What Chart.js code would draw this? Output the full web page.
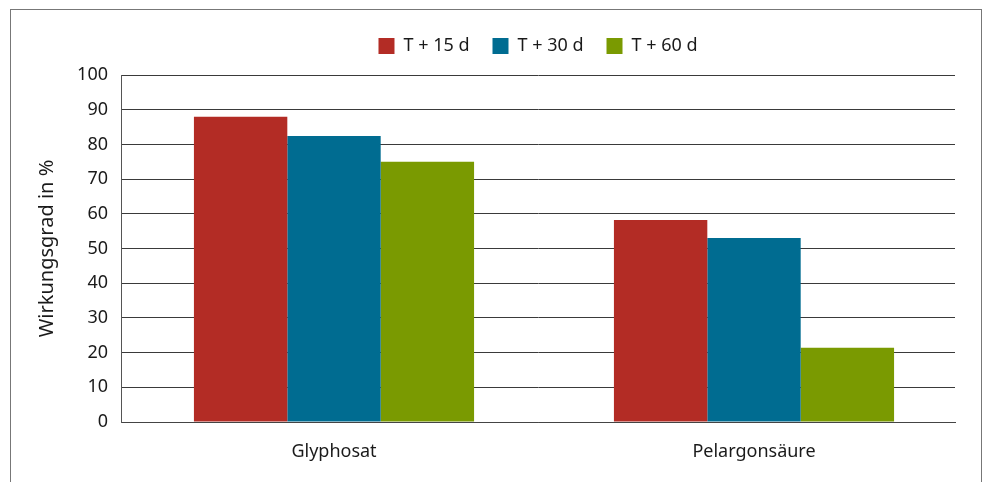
<!DOCTYPE html>
<html>
<head>
<meta charset="utf-8">
<script src="https://cdn.jsdelivr.net/npm/chart.js@4"></script>
<style>
  html, body { margin: 0; padding: 0; background: #fff; }
  #wrap { position: relative; width: 985px; height: 482px; overflow: hidden; }
  #frame { position: absolute; left: 10px; top: 9px; width: 970px; height: 500px;
           border-top: 1px solid #777; border-left: 1px solid #777; border-right: 1px solid #777; }
  canvas { position: absolute; left: 0; top: 0; }
</style>
</head>
<body>
<div id="wrap">
  <div id="frame"></div>
  <canvas id="c" width="985" height="482"></canvas>
</div>
<script>
const categories = ["Glyphosat", "Pelargonsäure"];
const seriesLabels = ["T + 15 d", "T + 30 d", "T + 60 d"];
const t15 = [88, 58.2];
const t30 = [82.4, 53.0];
const t60 = [75, 21.4];
const yTicks = [0, 10, 20, 30, 40, 50, 60, 70, 80, 90, 100];
const colors = ["#B32C25", "#006C91", "#7A9A01"];

const FONT = "'Noto Sans', 'Open Sans', sans-serif";

const legendHeight = {
  id: 'legendHeight',
  beforeInit(chart) {
    const origFit = chart.legend.fit;
    chart.legend.fit = function () {
      origFit.bind(chart.legend)();
      this.height = 61;
    };
  }
};

// category band of the reference runs slightly past the gridlines on the right
const categoryBand = {
  id: 'categoryBand',
  afterLayout(chart) {
    const x = chart.scales.x;
    x._startPixel = chart.chartArea.left + 3;
    x._endPixel = chart.chartArea.right + 9;
    x._length = x._endPixel - x._startPixel;
  }
};

new Chart(document.getElementById('c'), {
  type: 'bar',
  data: {
    labels: categories,
    datasets: [t15, t30, t60].map((d, i) => ({
      label: seriesLabels[i],
      data: d,
      backgroundColor: colors[i],
      borderWidth: 0,
      categoryPercentage: 0.667,
      barPercentage: 1.0
    }))
  },
  options: {
    responsive: false,
    animation: false,
    devicePixelRatio: 1,
    layout: { padding: { left: 0, right: 30, top: 14, bottom: 0 } },
    plugins: {
      legend: {
        display: true,
        position: 'top',
        fullSize: false,
        labels: {
          boxWidth: 16, boxHeight: 16, padding: 23,
          color: '#1a1a1a',
          font: { family: FONT, size: 18 }
        }
      },
      tooltip: { enabled: false }
    },
    scales: {
      x: {
        grid: { display: false, drawTicks: false },
        border: { display: true, color: '#444', width: 1 },
        ticks: { color: '#1a1a1a', padding: 19, font: { family: FONT, size: 18 } },
        afterFit(scale) { scale.height = 60; }
      },
      y: {
        min: 0, max: 100,
        afterBuildTicks(scale) { scale.ticks = yTicks.map(v => ({ value: v })); },
        grid: { color: '#3a3a3a', lineWidth: 1, drawTicks: false },
        border: { display: true, color: '#555', width: 1 },
        ticks: { color: '#1a1a1a', padding: 13, font: { family: FONT, size: 18 } },
        title: {
          display: true, text: 'Wirkungsgrad in %', color: '#1a1a1a',
          font: { family: FONT, size: 20 }, padding: { top: 35, bottom: 0 }
        },
        afterFit(scale) { scale.width = 121; }
      }
    }
  },
  plugins: [legendHeight, categoryBand]
});
</script>
</body>
</html>
